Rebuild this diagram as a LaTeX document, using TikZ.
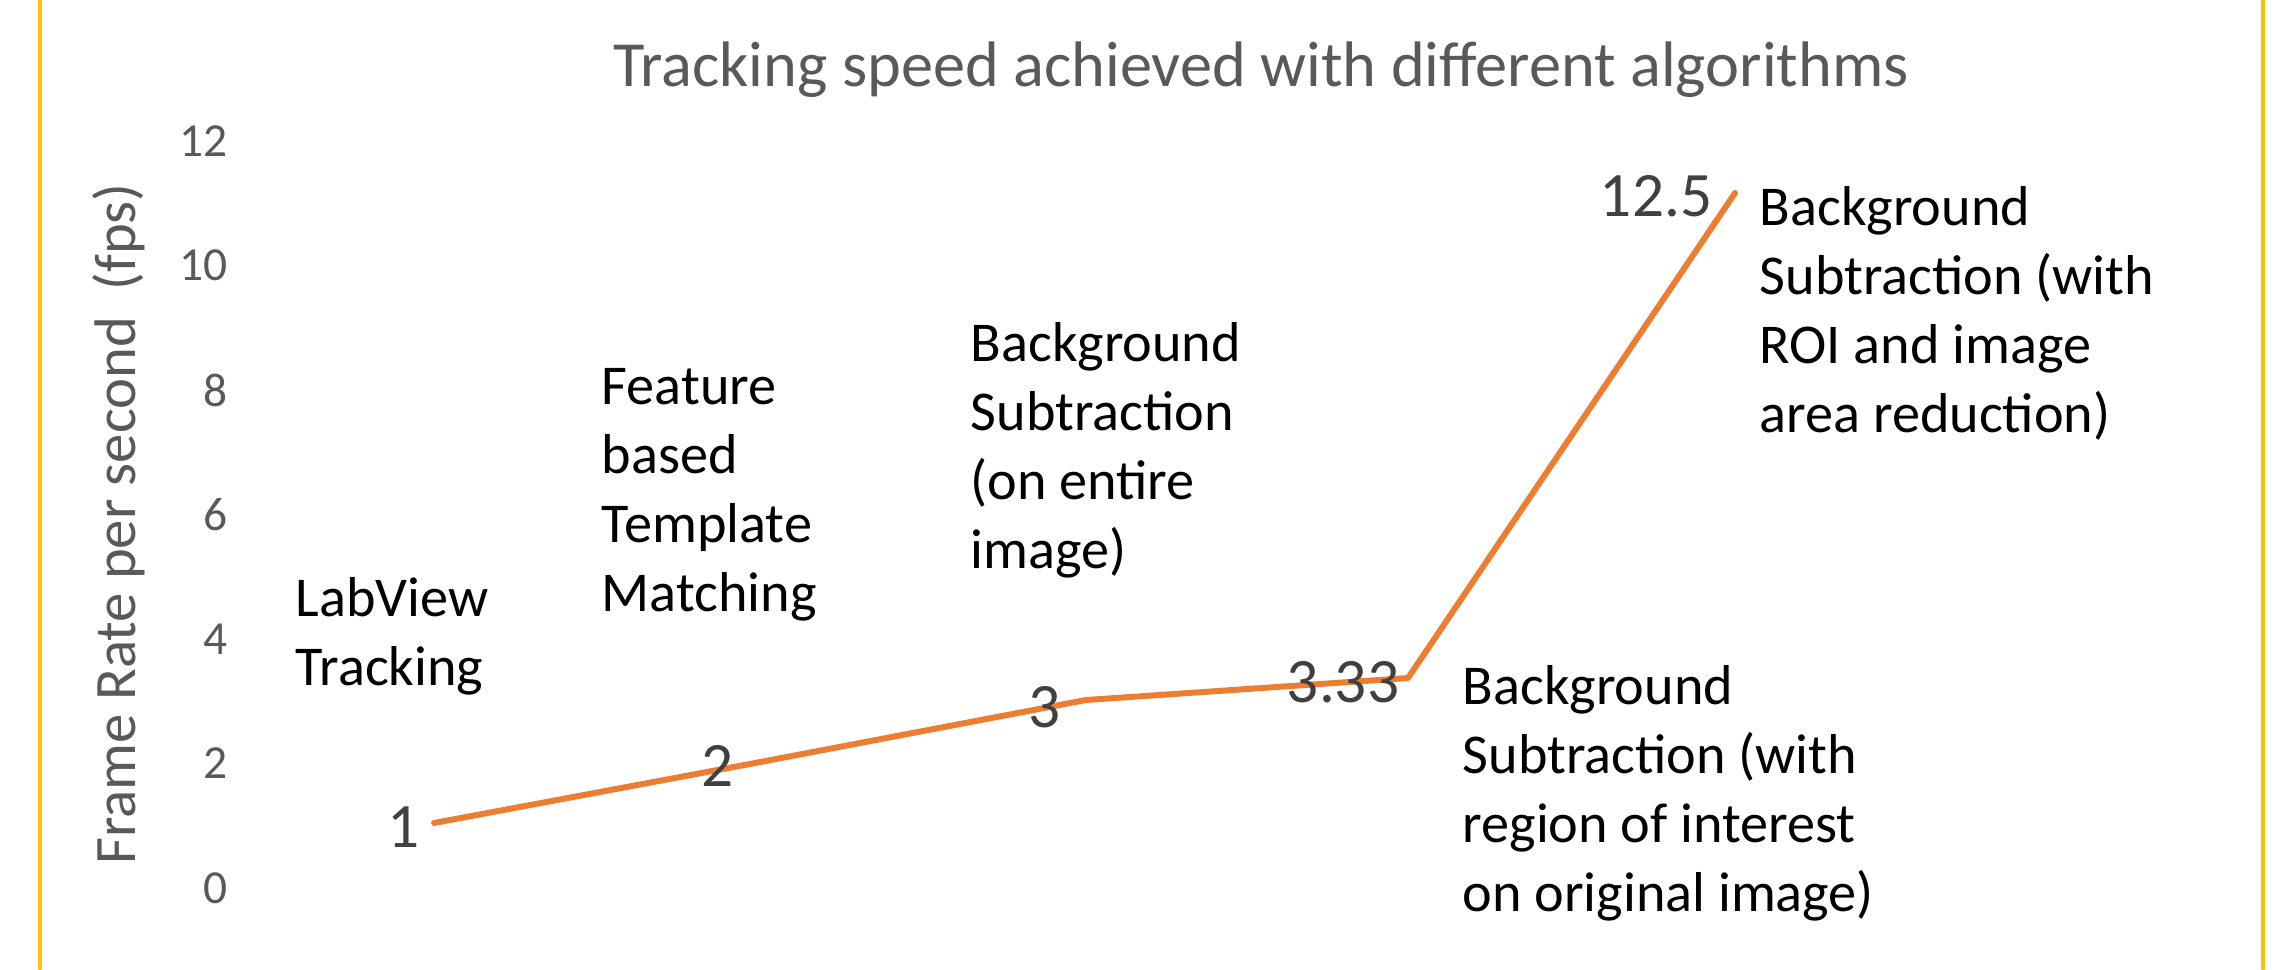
\documentclass[tikz,border=0pt]{standalone}
\usepackage{fontspec}
\setmainfont{Carlito}
\usepackage{tikz}
\usetikzlibrary{arrows.meta}
\usepackage{xcolor}
\definecolor{seriesorange}{HTML}{ED7D31}
\definecolor{framegold}{HTML}{FFC000}
\definecolor{axisgray}{HTML}{595959}
\definecolor{valuegray}{HTML}{404040}

\begin{document}
\begin{tikzpicture}[line cap=round,
  ticklabel/.style={anchor=east,inner sep=0pt,text=axisgray,font=\fontsize{13.5}{15}\selectfont},
  valuelabel/.style={inner sep=0pt,text=valuegray,font=\fontsize{18}{21}\selectfont},
  algolabel/.style={anchor=north west,inner sep=0pt,align=left,font=\fontsize{16}{19.6}\selectfont}]
\useasboundingbox (0,0) rectangle (22.76,9.69);
\fill[white] (0,0) rectangle (22.76,9.69);
% frame lines
\draw[framegold,line width=0.9pt] (0.40,0) -- (0.40,9.69);
\draw[framegold,line width=0.9pt] (22.63,0) -- (22.63,9.69);
% title and axis
\node[text=axisgray,font=\fontsize{18.3}{21}\selectfont] (title) at (12.61,8.99) {Tracking speed achieved with different algorithms};
\node[rotate=90,text=axisgray,font=\fontsize{16.7}{20}\selectfont] (ylabel) at (1.19,4.45) {Frame Rate per second~~(fps)};
\node[ticklabel] (t0) at (2.28,0.81) {0};
\node[ticklabel] (t2) at (2.28,2.055) {2};
\node[ticklabel] (t4) at (2.28,3.30) {4};
\node[ticklabel] (t6) at (2.28,4.545) {6};
\node[ticklabel] (t8) at (2.28,5.79) {8};
\node[ticklabel] (t10) at (2.28,7.035) {10};
\node[ticklabel] (t12) at (2.28,8.28) {12};
% data points
\coordinate (p1) at (4.34,1.46);
\coordinate (p2) at (7.55,2.06);
\coordinate (p3) at (10.86,2.69);
\coordinate (p4) at (14.08,2.91);
\coordinate (p5) at (17.35,7.76);
\draw[seriesorange,line width=1.7pt,line join=round] (p1) -- (p2) -- (p3) -- (p4) -- (p5);
\node[valuelabel] (v1) at (4.04,1.42) {1};
\node[valuelabel] (v2) at (7.18,2.03) {2};
\node[valuelabel] (v3) at (10.45,2.62) {3};
\node[valuelabel] (v4) at (13.43,2.87) {3.33};
\node[valuelabel] (v5) at (16.56,7.73) {12.5};
% algorithm names
\node[algolabel] (a1) at (2.95,3.92) {LabView\\Tracking};
\node[algolabel] (a2) at (6.01,6.01) {Feature\\based\\Template\\Matching};
\node[algolabel] (a3) at (9.70,6.47) {Background\\Subtraction\\(on entire\\image)};
\node[algolabel] (a4) at (14.62,3.04) {Background\\Subtraction (with\\region of interest\\on original image)};
\node[algolabel] (a5) at (17.59,7.83) {Background\\Subtraction (with\\ROI and image\\area reduction)};
\end{tikzpicture}
\end{document}
